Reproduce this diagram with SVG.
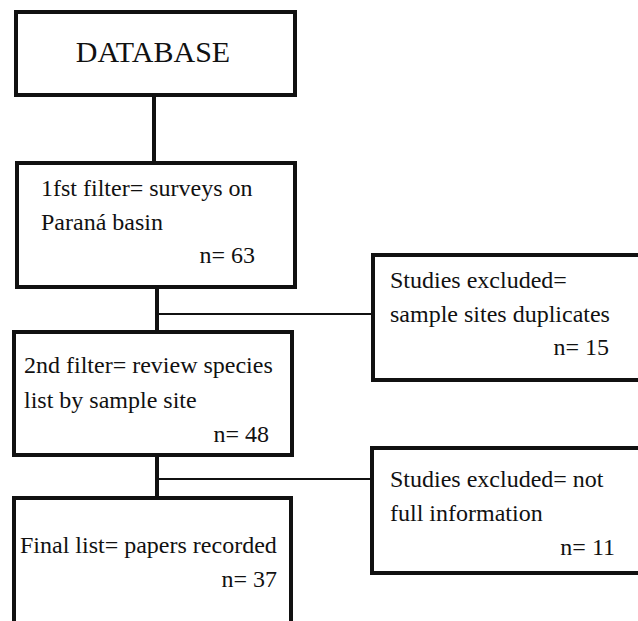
<svg xmlns="http://www.w3.org/2000/svg" width="638" height="621" viewBox="0 0 638 621">
<style>
.box{fill:#fff;stroke:#111;stroke-width:4}
.t{font-family:"Liberation Serif","Times New Roman",serif;font-size:24px;fill:#111}
.big{font-size:30px}
.r{text-anchor:end}
.v{stroke:#111;stroke-width:4;fill:none}
.h{stroke:#111;stroke-width:2;fill:none}
</style>
<rect width="638" height="621" fill="#fff"/>
<g id="connectors">
<line class="v" x1="154" y1="95" x2="154" y2="163"/>
<line class="v" x1="157" y1="287" x2="157" y2="332"/>
<line class="h" x1="157" y1="314" x2="372" y2="314"/>
<line class="v" x1="157" y1="455" x2="157" y2="498"/>
<line class="h" x1="157" y1="479" x2="372" y2="479"/>
</g>
<g id="database">
<rect class="box" x="16" y="12" width="279" height="83"/>
<text class="t big" x="153" y="62" text-anchor="middle">DATABASE</text>
</g>
<g id="filter1">
<rect class="box" x="17" y="163" width="278" height="124"/>
<text class="t" x="41" y="196">1fst filter= surveys on</text>
<text class="t" x="41" y="230">Paraná basin</text>
<text class="t r" x="255" y="263">n= 63</text>
</g>
<g id="excluded1">
<rect class="box" x="373" y="255" width="280" height="125"/>
<text class="t" x="390" y="288">Studies excluded=</text>
<text class="t" x="390" y="322">sample sites duplicates</text>
<text class="t r" x="609" y="355">n= 15</text>
</g>
<g id="filter2">
<rect class="box" x="14" y="332" width="278" height="123"/>
<text class="t" x="24" y="373">2nd filter= review species</text>
<text class="t" x="24" y="408">list by sample site</text>
<text class="t r" x="269" y="442">n= 48</text>
</g>
<g id="excluded2">
<rect class="box" x="372" y="448" width="280" height="125"/>
<text class="t" x="390" y="487">Studies excluded= not</text>
<text class="t" x="390" y="521">full information</text>
<text class="t r" x="615" y="555">n= 11</text>
</g>
<g id="final">
<rect class="box" x="14" y="498" width="277" height="140"/>
<text class="t" x="20" y="553">Final list= papers recorded</text>
<text class="t r" x="277" y="587">n= 37</text>
</g>
</svg>
